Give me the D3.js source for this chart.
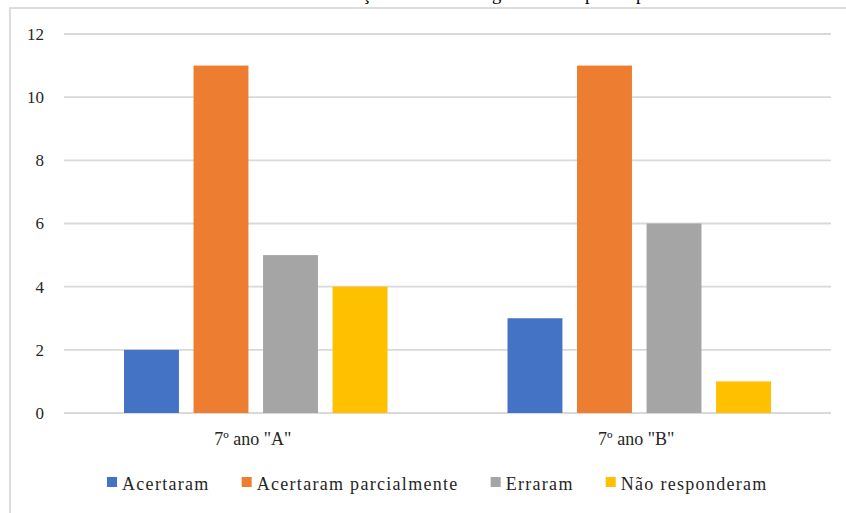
<!DOCTYPE html>
<html>
<head>
<meta charset="utf-8">
<script src="https://cdn.jsdelivr.net/npm/d3@7"></script>
<style>
  html, body { margin: 0; padding: 0; background: #fff; }
  svg { display: block; }
  svg text { font-family: "Liberation Serif", "Times New Roman", Times, serif; }
</style>
</head>
<body>
<svg id="chart" width="846" height="513"></svg>
<script>
// Turmas (categories), series names and counts per series
const categories = ['7º ano "A"', '7º ano "B"'];
const seriesNames = ["Acertaram", "Acertaram parcialmente", "Erraram", "Não responderam"];
const acertaram = [2, 3];
const acertaramParcialmente = [11, 11];
const erraram = [5, 6];
const naoResponderam = [4, 1];
const yTicks = [0, 2, 4, 6, 8, 10, 12];
const colors = ["#4472C4", "#ED7D31", "#A5A5A5", "#FFC000"];
const titleText = "Classificação dos alunos segundo as respostas por turma";

const seriesValues = [acertaram, acertaramParcialmente, erraram, naoResponderam];
const rows = categories.map((c, i) => ({
  category: c,
  values: seriesNames.map((s, k) => ({ series: s, value: seriesValues[k][i], color: colors[k] }))
}));

const svg = d3.select("#chart");
const W = 846, H = 513;

// chart area border
svg.append("rect")
  .attr("x", 10).attr("y", 8)
  .attr("width", W).attr("height", H)
  .attr("fill", "#fff")
  .attr("stroke", "#d9d9d9").attr("stroke-width", 1.8);

// title sits above the chart frame; only its descenders reach the page
svg.append("text")
  .attr("x", 289).attr("y", 0)
  .attr("font-size", 18.6)
  .attr("fill", "#000")
  .text(titleText);

const plot = { left: 64, right: 831, top: 34, bottom: 413 };

const y = d3.scaleLinear().domain([0, 12]).range([plot.bottom, plot.top]);
const x0 = d3.scaleBand().domain(categories).range([plot.left, plot.right]).padding(0);
const bw0 = x0.bandwidth();
const x1 = d3.scaleBand().domain(seriesNames)
  .range([60, bw0 - 60])
  .paddingInner(0.21).paddingOuter(0);

// horizontal gridlines
svg.append("g")
  .selectAll("line")
  .data(yTicks)
  .join("line")
  .attr("x1", plot.left).attr("x2", plot.right)
  .attr("y1", d => y(d)).attr("y2", d => y(d))
  .attr("stroke", "#d9d9d9").attr("stroke-width", 1.8);

// value axis labels
const yAxis = d3.axisLeft(y).tickValues(yTicks).tickSize(0).tickPadding(0);
const gy = svg.append("g").attr("transform", "translate(44,0)").call(yAxis);
gy.attr("font-family", null);
gy.select(".domain").remove();
gy.selectAll("text").attr("font-size", 17).attr("fill", "#262626");

// clustered bars
const groups = svg.append("g")
  .selectAll("g")
  .data(rows)
  .join("g")
  .attr("transform", d => `translate(${x0(d.category)},0)`);

groups.selectAll("rect")
  .data(d => d.values)
  .join("rect")
  .attr("x", d => x1(d.series))
  .attr("width", x1.bandwidth())
  .attr("y", d => y(d.value))
  .attr("height", d => y(0) - y(d.value))
  .attr("fill", d => d.color);

// category axis labels
const xAxis = d3.axisBottom(x0).tickSize(0).tickPadding(0);
const gx = svg.append("g").attr("transform", `translate(-3,${plot.bottom + 32})`).call(xAxis);
gx.attr("font-family", null);
gx.select(".domain").remove();
gx.selectAll("text").attr("font-size", 18).attr("fill", "#262626").attr("dy", 0);

// legend row
const legend = svg.append("g");
let cursor = 107;
seriesNames.forEach((name, k) => {
  legend.append("rect")
    .attr("x", cursor).attr("y", 477)
    .attr("width", 10).attr("height", 10)
    .attr("fill", colors[k]);
  const t = legend.append("text")
    .attr("x", cursor + 15).attr("y", 490)
    .attr("font-size", 18)
    .attr("letter-spacing", "1.3px")
    .attr("fill", "#262626")
    .text(name);
  cursor = cursor + 15 + t.node().getComputedTextLength() + 32;
});
</script>
</body>
</html>
